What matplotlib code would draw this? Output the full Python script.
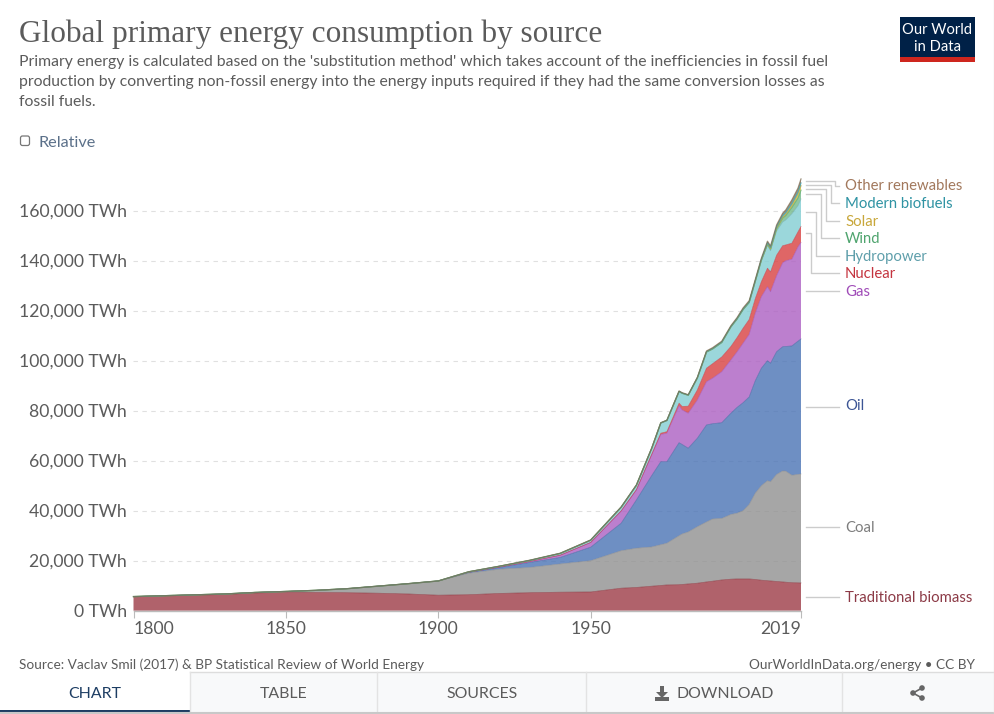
import numpy as np
import matplotlib
matplotlib.use('Agg')
import matplotlib.pyplot as plt
from matplotlib.patches import Rectangle, FancyBboxPatch, Polygon, Circle

years = [1800, 1810, 1820, 1830, 1840, 1850, 1860, 1870, 1880, 1890, 1900,
         1910, 1920, 1930, 1940, 1950, 1960, 1965, 1970, 1973, 1975, 1979,
         1980, 1982, 1985, 1988, 1990, 1993, 1996, 1998, 2000, 2002, 2004,
         2006, 2008, 2009, 2011, 2013, 2014, 2016, 2018, 2019]

biomass = [5556, 5900, 6200, 6500, 7100, 7400, 7300, 7200, 7000, 6700, 6200,
           6400, 6900, 7200, 7400, 7500, 9000, 9300, 9800, 10100, 10300, 10400,
           10500, 10700, 11000, 11500, 11800, 12300, 12600, 12700, 12700, 12700, 12500,
           12200, 12000, 11900, 11700, 11500, 11400, 11200, 11150, 11100]
coal = [94, 100, 150, 200, 200, 300, 850, 1600, 2800, 4100, 5700,
        8600, 9700, 10100, 11300, 12500, 15000, 15700, 15700, 16300, 16700, 19600,
        20200, 20800, 22600, 24000, 24900, 24600, 25900, 26300, 27300, 29800, 34500,
        37800, 40000, 39700, 42800, 44400, 44400, 43000, 43350, 43600]
oil = [0, 0, 0, 0, 0, 0, 0, 0, 0, 0, 0,
       350, 700, 2000, 2600, 5400, 11000, 19300, 28500, 33200, 32600, 37200,
       35800, 33500, 35400, 38800, 38100, 38300, 40500, 42300, 43200, 43000, 45000,
       47000, 48000, 47400, 49100, 49700, 49900, 51700, 53300, 54000]
gas = [0, 0, 0, 0, 0, 0, 0, 0, 0, 0, 0,
       50, 150, 400, 900, 1900, 4900, 4000, 8300, 10900, 11400, 14800,
       13800, 14000, 15300, 17300, 18200, 20400, 21300, 22200, 23800, 25000, 27000,
       28600, 29600, 28600, 30400, 33600, 34300, 34700, 37700, 38600]
nuclear = [0, 0, 0, 0, 0, 0, 0, 0, 0, 0, 0,
           0, 0, 0, 0, 0, 0, 100, 200, 500, 600, 1000,
           1400, 2800, 4000, 5400, 5800, 5900, 5400, 5700, 6000, 6000, 5800,
           6000, 7400, 7900, 8200, 6800, 6300, 6400, 6000, 6400]
hydro = [0, 0, 0, 0, 0, 0, 0, 0, 0, 0, 0,
         150, 300, 400, 700, 900, 1500, 1800, 2400, 4100, 4500, 4700,
         5300, 4400, 4800, 6500, 5900, 5800, 7800, 7400, 7400, 6700, 6800,
         8300, 9100, 8500, 9700, 9500, 10000, 11800, 10500, 11000]
wind = [0, 0, 0, 0, 0, 0, 0, 0, 0, 0, 0,
        0, 0, 0, 0, 0, 0, 0, 0, 0, 0, 0,
        0, 0, 0, 0, 10, 10, 30, 50, 80, 140, 200,
        350, 550, 700, 1000, 1600, 1800, 2500, 3100, 3500]
solar = [0, 0, 0, 0, 0, 0, 0, 0, 0, 0, 0,
         0, 0, 0, 0, 0, 0, 0, 0, 0, 0, 0,
         0, 0, 0, 0, 0, 0, 0, 0, 0, 0, 5,
         10, 30, 50, 150, 350, 500, 800, 1400, 1800]
biofuels = [0, 0, 0, 0, 0, 0, 0, 0, 0, 0, 0,
            0, 0, 0, 0, 0, 0, 0, 0, 0, 0, 10,
            20, 20, 30, 50, 70, 70, 80, 90, 90, 100, 130,
            250, 450, 500, 600, 700, 750, 900, 1050, 1100]
other = [0, 0, 0, 0, 0, 0, 0, 0, 0, 0, 0,
         50, 50, 100, 100, 100, 100, 100, 100, 100, 100, 190,
         180, 180, 270, 350, 420, 420, 390, 460, 530, 560, 565,
         490, 670, 650, 650, 850, 950, 1300, 1450, 1600]

series = [biomass, coal, oil, gas, nuclear, hydro, wind, solar, biofuels, other]
fill_colors = ['#9C3B46', '#909090', '#4A73B5', '#AC5FC2', '#D84040',
               '#82CED3', '#74B98A', '#E6D04F', '#4FAFBF', '#A2785C']
line_colors = ['#883039', '#8a8a8a', '#3C5E9E', '#A04CB8', '#C4343F',
               '#6AAEB4', '#58AC6C', '#C8A73A', '#38A0B0', '#7A6A50']

label_names = ['Traditional biomass', 'Coal', 'Oil', 'Gas', 'Nuclear', 'Hydropower',
               'Wind', 'Solar', 'Modern biofuels', 'Other renewables']
label_colors = ['#8C3A46', '#7d7d7d', '#3C5595', '#A04CB8', '#C4343F',
                '#5F9FAB', '#4FA46E', '#C8A73A', '#2F93A3', '#A2785C']
label_y = [597, 527, 405.5, 290.5, 273, 255.5, 238, 220.5, 203, 185.5]

y_ticks = list(range(0, 160001, 20000))
x_ticks = [1800, 1850, 1900, 1950, 2019]

W, H = 995, 714
X0, X1 = 133.5, 801
Y0, YTOP = 610.7, 170
text_gray = '#5b5b5b'

plt.rcParams['font.family'] = ['Lato', 'DejaVu Sans']

fig = plt.figure(figsize=(W / 100, H / 100), dpi=100, facecolor='white')

ax = fig.add_axes([X0 / W, 1 - Y0 / H, (X1 - X0) / W, (Y0 - YTOP) / H])
ax.patch.set_alpha(0)
ax.set_xlim(1800, 2019)
ax.set_ylim(0, (Y0 - YTOP) * 400)

for t in y_ticks[1:]:
    ax.axhline(t, color='#e0e0e0', lw=0.8, dashes=(4, 4), zorder=1)

ax.stackplot(years, series, colors=fill_colors, alpha=0.8, linewidth=0, zorder=2)

tops = np.cumsum(np.array(series), axis=0)
for i in range(len(series)):
    lw = 0.5 if i < 6 else 0.9
    ax.plot(years, tops[i], color=line_colors[i], lw=lw, alpha=0.7, zorder=3, clip_on=False)

for s in ['top', 'left', 'right']:
    ax.spines[s].set_visible(False)
ax.spines['bottom'].set_color('#bbbbbb')
ax.spines['bottom'].set_linewidth(1)
ax.set_yticks([])
ax.set_xticks(x_ticks)
ax.tick_params(axis='x', length=5, color='#bbbbbb', labelbottom=False)

# everything else is placed in pixels on a full figure overlay
ov = fig.add_axes([0, 0, 1, 1], facecolor='none')
ov.set_xlim(0, W)
ov.set_ylim(H, 0)
ov.axis('off')

for t in y_ticks:
    ypx = Y0 - t / 400
    ov.text(127, ypx + 1, f'{t:,} TWh', ha='right', va='center', fontsize=12.7, color=text_gray)
for t in x_ticks:
    xpx = X0 + (t - 1800) * (X1 - X0) / 219
    ha = 'center'
    if t == 1800:
        ha = 'left'
    if t == 2019:
        ha = 'right'
    ov.text(xpx, 629, str(t), ha=ha, va='center', fontsize=12.7, color=text_gray)

ov.text(19, 34, 'Global primary energy consumption by source', family='Liberation Serif',
        fontsize=22.5, color='#5b5b5b', va='center')
sub_lines = ["Primary energy is calculated based on the 'substitution method' which takes account of the inefficiencies in fossil fuel",
             "production by converting non-fossil energy into the energy inputs required if they had the same conversion losses as",
             "fossil fuels."]
for line, ypx in zip(sub_lines, [62, 82, 102]):
    ov.text(19, ypx, line, fontsize=11.3, color=text_gray, va='center')

ov.add_patch(FancyBboxPatch((20.5, 136), 9, 9.5, boxstyle='round,pad=0,rounding_size=2',
                            fc='white', ec='#777777', lw=0.9))
ov.text(38, 143, 'Relative', fontsize=11.7, color='#5b7089', va='center')

# logo
ov.add_patch(Rectangle((900, 17), 75, 45, fc='#002147', ec='none'))
ov.add_patch(Rectangle((900, 57), 75, 5, fc='#ce261e', ec='none'))
ov.text(937.5, 30.5, 'Our World', color='white', fontsize=10.6, ha='center', va='center')
ov.text(937.5, 47, 'in Data', color='white', fontsize=10.6, ha='center', va='center')

# connector lines, from the right edge of the area to each label
connectors = [[(806, 597), (839, 597)],
              [(806, 527), (839, 527)],
              [(806, 406.7), (839, 406.7)],
              [(806, 291), (839, 291)],
              [(806, 233.3), (810.7, 233.3), (810.7, 273.3), (839, 273.3)],
              [(806, 211.7), (815.7, 211.7), (815.7, 255.7), (839, 255.7)],
              [(806, 194.3), (820.7, 194.3), (820.7, 238.3), (839, 238.3)],
              [(806, 189), (825.7, 189), (825.7, 220.7), (839, 220.7)],
              [(806, 185), (830.7, 185), (830.7, 203.3), (839, 203.3)],
              [(806, 180.7), (835, 180.7), (835, 185.7), (839, 185.7)]]
for pts in connectors:
    xs, ys = zip(*pts)
    ov.plot(xs, ys, color='#cccccc', lw=1)

for name, c, ypx in zip(label_names, label_colors, label_y):
    ov.text(845, ypx + 1, name, color=c, fontsize=10.75, va='center')

ov.text(19, 665, 'Source: Vaclav Smil (2017) & BP Statistical Review of World Energy',
        fontsize=9.85, color=text_gray, va='center')
ov.text(975, 665, 'OurWorldInData.org/energy • CC BY', fontsize=9.85, color=text_gray,
        va='center', ha='right')

# tab bar
ov.add_patch(Rectangle((190, 672), 805, 40, fc='#f8f9fa', ec='none'))
ov.plot([190, 994], [672, 672], color='#dddddd', lw=1)
for xpx in [190, 377, 586, 842]:
    ov.plot([xpx, xpx], [672, 712], color='#e3e3e3', lw=1)
ov.plot([0, 995], [712.5, 712.5], color='#c8c8c8', lw=1.5)
ov.add_patch(Rectangle((0, 710), 190, 2.5, fc='#1d3d63', ec='none'))
ov.plot([994, 994], [0, 712], color='#e8e8e8', lw=1)
ov.text(95, 694, 'CHART', fontsize=11.4, color='#1d3d63', ha='center', va='center')
ov.text(284, 694, 'TABLE', fontsize=11.4, color=text_gray, ha='center', va='center')
ov.text(482, 694, 'SOURCES', fontsize=11.4, color=text_gray, ha='center', va='center')
ov.text(725, 694, 'DOWNLOAD', fontsize=11.4, color=text_gray, ha='center', va='center')

# download icon
ov.add_patch(Polygon([(660, 686), (664, 686), (664, 692), (668, 692), (662, 698), (656, 692), (660, 692)],
                     fc='#666666', ec='none'))
ov.add_patch(Rectangle((655, 697), 14, 4, fc='#666666', ec='none'))
# share icon
ov.plot([922, 913, 922], [688, 693, 698], color='#666666', lw=1.2)
for xc, yc in [(922, 688), (913, 693), (922, 698)]:
    ov.add_patch(Circle((xc, yc), 2.8, fc='#666666', ec='none'))

fig.savefig('out.png', dpi=100)
